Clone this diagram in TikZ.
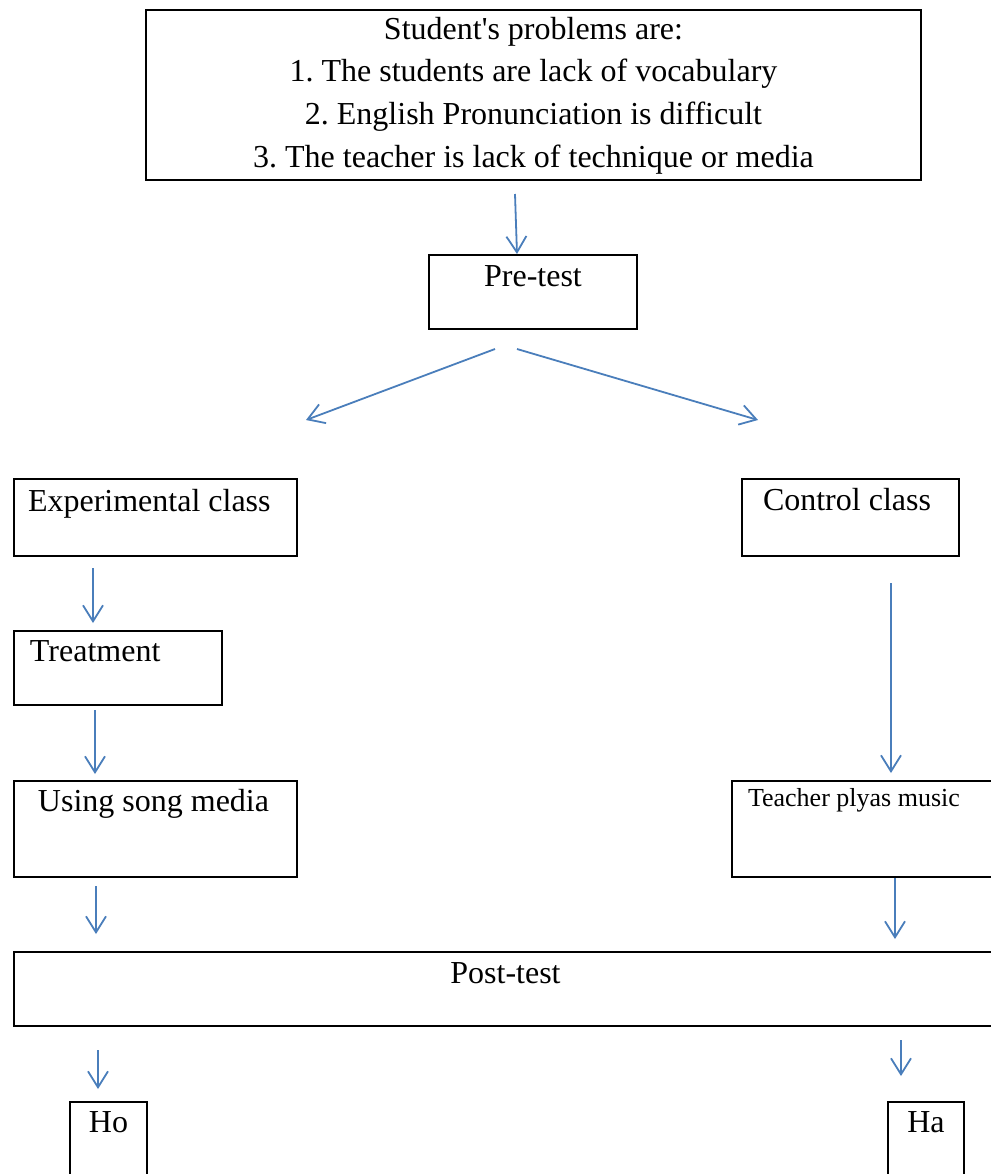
\documentclass[tikz,border=0pt]{standalone}
\usepackage{fontspec}
\setmainfont{Liberation Serif}
\usetikzlibrary{arrows.meta,calc}
\definecolor{flowblue}{RGB}{74,126,187}
\frenchspacing

\begin{document}
\begin{tikzpicture}[x=0.5pt,y=-0.5pt,
    box/.style={draw, line width=1.2pt, anchor=north west, inner ysep=0pt, outer sep=0pt,
        font=\fontsize{16}{21.33}\selectfont},
    flow/.style={draw=flowblue, line width=0.9pt, -{Straight Barb[length=8pt,width=10pt]}}]
    \useasboundingbox (0,0) rectangle (991,1174);
    \clip (0,0) rectangle (991,1174);

    \node[box, align=flush center, minimum width=387.5pt, text height=78.5pt, text depth=6.5pt] (problems) at (146,10)
        {Student\textquotesingle s problems are:\\1. The students are lack of vocabulary\\2. English Pronunciation is difficult\\3. The teacher is lack of technique or media};
    \node[box, align=flush center, minimum width=104pt, text height=15.5pt, text depth=21.5pt] (pretest) at (429,255) {Pre-test};
    \node[box, align=flush left, inner xsep=7pt, text width=127.5pt, text height=16pt, text depth=22.5pt] (experimental) at (14,479) {Experimental class};
    \node[box, align=flush left, inner xsep=10.5pt, text width=87.5pt, text height=15.5pt, text depth=23pt] (control) at (742,479) {Control class};
    \node[box, align=flush left, inner xsep=8pt, text width=88pt, text height=15pt, text depth=22pt] (treatment) at (14,631) {Treatment};
    \node[box, align=flush left, inner xsep=12pt, text width=117.5pt, text height=15pt, text depth=33pt] (songmedia) at (14,781) {Using song media};
    \node[box, align=flush left, inner xsep=8pt, text width=118pt, text height=12.5pt, text depth=35.5pt,
        font=\fontsize{13}{15}\selectfont] (music) at (732,781) {Teacher plyas music};
    \node[box, align=flush center, minimum width=491.5pt, text height=15.5pt, text depth=21.5pt] (posttest) at (14,952) {Post-test};
    \node[box, align=flush center, minimum width=38.5pt, inner xsep=0pt, text height=15pt, text depth=29pt] (ho) at (70,1102) {Ho};
    \node[box, align=flush center, minimum width=38pt, inner xsep=0pt, text height=15pt, text depth=29pt] (ha) at (888,1102) {Ha};

    \draw[flow] ($(problems.south)+(-18.5,14)$) -- ($(pretest.north)+(-16,-1)$);
    \draw[flow] ($(pretest.south)+(-38,20)$) -- ($(experimental.north)+(150.5,-59)$);
    \draw[flow] ($(pretest.south)+(-16,20)$) -- ($(control.north)+(-92.5,-59)$);
    \draw[flow] ($(experimental.south)+(-62.5,12)$) -- ($(treatment.north)+(-25,-8)$);
    \draw[flow] ($(treatment.south)+(-23,5)$) -- ($(songmedia.north)+(-60.5,-7)$);
    \draw[flow] ($(songmedia.south)+(-59.5,9)$) -- ($(posttest.north west)+(82,-18)$);
    \draw[flow] ($(control.south)+(40.5,27)$) -- ($(music.north west)+(159,-8)$);
    \draw[flow] ($(music.south west)+(163,1)$) -- ($(posttest.north east)+(-102,-13)$);
    \draw[flow] ($(posttest.south west)+(84,24)$) -- ($(ho.north)+(-10.5,-13)$);
    \draw[flow] ($(posttest.south east)+(-96,14)$) -- ($(ha.north)+(-25,-26)$);
\end{tikzpicture}
\end{document}
